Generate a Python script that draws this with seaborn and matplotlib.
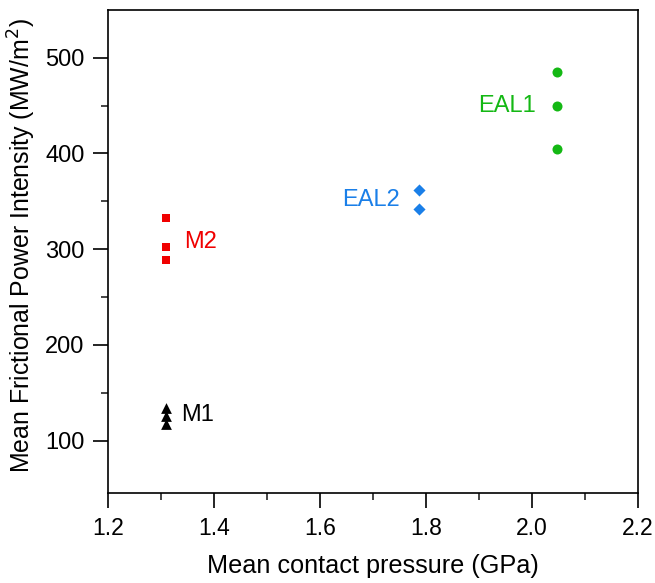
import pandas as pd
import numpy as np
import matplotlib
matplotlib.use("Agg")
import matplotlib.pyplot as plt
import seaborn as sns

# data
m1_x = [1.31, 1.31, 1.31]
m1_y = [117, 126, 134]
m2_x = [1.31, 1.31, 1.31]
m2_y = [289, 302, 333]
eal2_x = [1.787, 1.787]
eal2_y = [342, 362]
eal1_x = [2.047, 2.047, 2.047]
eal1_y = [405, 450, 485]

groups = ["M1", "M2", "EAL2", "EAL1"]
colors = {"M1": "black", "M2": "#f00000", "EAL2": "#1a7fe8", "EAL1": "#14b814"}
markers = {"M1": "^", "M2": "s", "EAL2": "D", "EAL1": "o"}
sizes = {"M1": 60, "M2": 34, "EAL2": 38, "EAL1": 52}

df = pd.concat([
    pd.DataFrame({"x": m1_x, "y": m1_y, "group": "M1"}),
    pd.DataFrame({"x": m2_x, "y": m2_y, "group": "M2"}),
    pd.DataFrame({"x": eal2_x, "y": eal2_y, "group": "EAL2"}),
    pd.DataFrame({"x": eal1_x, "y": eal1_y, "group": "EAL1"}),
], ignore_index=True)

sns.set_theme(style="ticks")
plt.rcParams['font.family'] = ['Liberation Sans', 'DejaVu Sans']
plt.rcParams['text.color'] = 'black'
plt.rcParams['axes.labelcolor'] = 'black'

fig = plt.figure(figsize=(6.55, 5.83), dpi=100)
ax = fig.add_axes([0.165, 0.154, 0.809, 0.829])

for g in groups:
    sub = df[df["group"] == g]
    sns.scatterplot(data=sub, x="x", y="y", color=colors[g], marker=markers[g],
                    s=sizes[g], linewidth=0, ax=ax, legend=False)

# group labels
ax.text(1.338, 127, "M1", color="black", fontsize=17, va="center", ha="left")
ax.text(1.343, 307, "M2", color=colors["M2"], fontsize=17, va="center", ha="left")
ax.text(1.751, 351, "EAL2", color=colors["EAL2"], fontsize=17, va="center", ha="right")
ax.text(2.008, 450, "EAL1", color=colors["EAL1"], fontsize=17, va="center", ha="right")

ax.set_xlim(1.2, 2.2)
ax.set_ylim(45, 550)
ax.set_xticks(np.arange(1.2, 2.21, 0.2))
ax.set_xticks(np.arange(1.3, 2.2, 0.2), minor=True)
ax.set_yticks([100, 200, 300, 400, 500])
ax.set_yticks([150, 250, 350, 450], minor=True)
ax.set_xticklabels(["1.2", "1.4", "1.6", "1.8", "2.0", "2.2"])

ax.tick_params(which="major", direction="out", length=11, width=1.2, colors="black", pad=6)
ax.tick_params(axis="x", which="major", labelsize=16.5)
ax.tick_params(axis="y", which="major", labelsize=17)
ax.tick_params(which="minor", direction="out", length=5, width=1.2)
for sp in ax.spines.values():
    sp.set_linewidth(1.2)
    sp.set_color("black")

ax.set_xlabel("Mean contact pressure (GPa)", fontsize=18.2, labelpad=10)
ax.set_ylabel("Mean Frictional Power Intensity (MW/m$^2$)", fontsize=17.9, labelpad=5)
ax.yaxis.label.set_y(0.513)

fig.savefig("out.png", dpi=100)
